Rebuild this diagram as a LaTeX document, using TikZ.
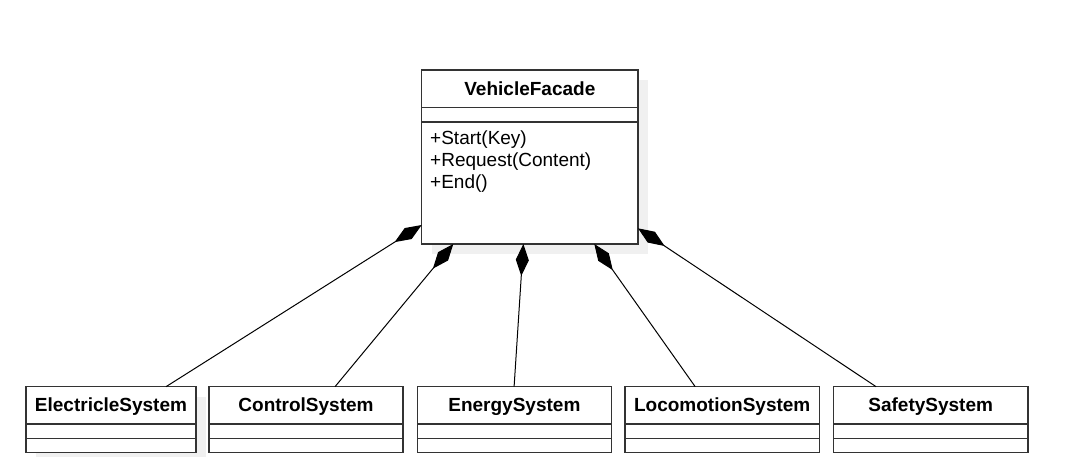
\documentclass[tikz,border=0pt]{standalone}
\usepackage{fontspec}
\setmainfont{Liberation Sans}
\usetikzlibrary{arrows.meta}
\definecolor{boxline}{HTML}{333333}
\definecolor{shadowgray}{HTML}{F0F0F0}
\begin{document}
\begin{tikzpicture}[x=1pt,y=-1pt,
  cls/.style={draw=boxline, line width=1.3pt, fill=white, anchor=north west, inner sep=0pt, outer sep=0pt},
  sep/.style={draw=boxline, line width=1.3pt},
  title/.style={font=\fontsize{19}{22}\selectfont\bfseries, anchor=base, inner sep=0pt},
  member/.style={font=\fontsize{19}{22}\selectfont, anchor=base west, inner sep=0pt},
  comp/.style={draw=black, line width=1pt, -{Diamond[length=32pt,width=13pt]}},
  shadowbox/.style={fill=shadowgray, draw=none}]
\useasboundingbox (0,0) rectangle (1077,457);
% shadows
\fill[shadowbox] (431.7,80) rectangle (648,254);
\fill[shadowbox] (36,396.7) rectangle (206,457);
% facade
\node[cls, minimum width=216.3pt, minimum height=174pt] (f) at (421.7,70) {};
\draw[sep] ([yshift=-37.7pt]f.north west) -- ([yshift=-37.7pt]f.north east);
\draw[sep] ([yshift=-52pt]f.north west) -- ([yshift=-52pt]f.north east);
\node[title] (ft) at (529.85,96) {VehicleFacade};
\node[member] (fm1) at (430,145) {+Start(Key)};
\node[member] (fm2) at (430,167) {+Request(Content)};
\node[member] (fm3) at (430,189) {+End()};
% subsystems
\node[cls, minimum width=170pt, minimum height=65.6pt] (es) at (26,386.7) {};
\node[cls, minimum width=194pt, minimum height=65.6pt] (cs) at (209,386.7) {};
\node[cls, minimum width=194.4pt, minimum height=65.6pt] (ens) at (417.2,386.7) {};
\node[cls, minimum width=194.4pt, minimum height=65.6pt] (ls) at (625,386.7) {};
\node[cls, minimum width=194.6pt, minimum height=65.6pt] (ss) at (833.4,386.7) {};
\foreach \b in {es,cs,ens,ls,ss}{
  \draw[sep] ([yshift=-37.3pt]\b.north west) -- ([yshift=-37.3pt]\b.north east);
  \draw[sep] ([yshift=-51.6pt]\b.north west) -- ([yshift=-51.6pt]\b.north east);
}
\node[title] (est) at (111,411.7) {ElectricleSystem};
\node[title] (cst) at (306,411.7) {ControlSystem};
\node[title] (enst) at (514.4,411.7) {EnergySystem};
\node[title] (lst) at (722.2,411.7) {LocomotionSystem};
\node[title] (sst) at (930.7,411.7) {SafetySystem};
% compositions
\draw[comp] ([xshift=55pt]es.north) -- ([yshift=19pt]f.south west);
\draw[comp] ([xshift=29pt]cs.north) -- ([xshift=31.6pt]f.south west);
\draw[comp] ([xshift=-0.3pt]ens.north) -- ([xshift=-6.5pt]f.south);
\draw[comp] ([xshift=-27pt]ls.north) -- ([xshift=-43.7pt]f.south east);
\draw[comp] ([xshift=-54.6pt]ss.north) -- ([yshift=15.7pt]f.south east);
\end{tikzpicture}
\end{document}
